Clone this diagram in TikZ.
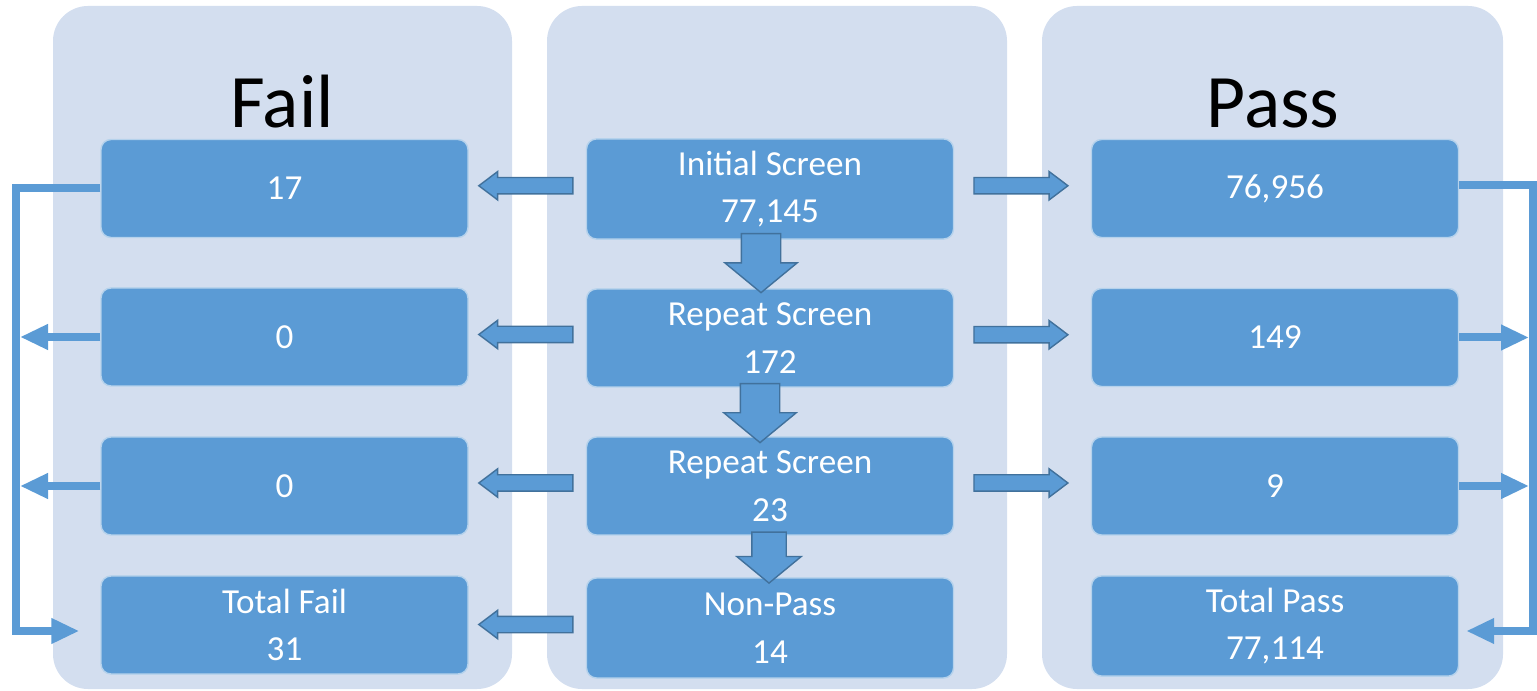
\documentclass[tikz,border=0pt]{standalone}
\usepackage{fontspec}
\setmainfont{Carlito}
\usetikzlibrary{arrows.meta, shapes.arrows, calc}

\definecolor{panelbg}{HTML}{D3DEEF}
\definecolor{boxblue}{HTML}{5B9BD5}
\definecolor{arrowedge}{HTML}{41719C}

\tikzset{
  panel/.style={fill=panelbg, rounded corners=0.35cm},
  stage/.style={rectangle, rounded corners=0.1cm, fill=boxblue, draw=white!55!boxblue, thin,
    text=white, minimum width=3.67cm, minimum height=0.98cm, align=center,
    font=\fontsize{10}{13.6}\selectfont},
  title/.style={font=\fontsize{21.5}{25}\selectfont, anchor=base},
  blockarrow/.style={single arrow, fill=boxblue, draw=arrowedge, line width=0.4pt, inner xsep=0pt},
  harrow/.style={blockarrow, minimum height=0.94cm, inner ysep=0.075cm,
    single arrow head extend=0.06cm, single arrow tip angle=74},
  varrow/.style={blockarrow, rotate=-90, minimum height=0.59cm, inner ysep=0.19cm,
    single arrow head extend=0.165cm, single arrow tip angle=101},
  tally/.style={draw=boxblue, line width=0.08cm},
  tallytip/.style={tally, -{Triangle[length=0.28cm, width=0.24cm]}},
}

\begin{document}
\begin{tikzpicture}
\useasboundingbox (0,0) rectangle (15.37,-6.91);

%% --- column panels -------------------------------------------------------
\fill[panel] (0.53,-0.06) rectangle (5.12,-6.89);
\fill[panel] (5.47,-0.06) rectangle (10.07,-6.89);
\fill[panel] (10.42,-0.06) rectangle (15.03,-6.89);

\node[title] (failhd) at (2.82,-1.28) {Fail};
\node[title] (passhd) at (12.73,-1.28) {Pass};

%% --- stage boxes ---------------------------------------------------------
\node[stage] (f1)   at (2.845,-1.885) {17};
\node[stage] (f2)   at (2.845,-3.37)  {0};
\node[stage] (f3)   at (2.845,-4.86)  {0};
\node[stage] (ftot) at (2.845,-6.25)  {Total Fail\\31};

\node[stage] (i1) at (7.70,-1.89) {Initial Screen\\77,145};
\node[stage] (i2) at (7.70,-3.38) {Repeat Screen\\172};
\node[stage] (i3) at (7.70,-4.86) {Repeat Screen\\23};
\node[stage, minimum height=1.0cm] (i4) at (7.70,-6.28) {Non-Pass\\14};

\node[stage] (r1)   at (12.75,-1.885) {76,956};
\node[stage] (r2)   at (12.75,-3.375) {149};
\node[stage] (r3)   at (12.75,-4.86)  {9};
\node[stage] (rtot) at (12.75,-6.26)  {Total Pass\\77,114};

%% --- block arrows --------------------------------------------------------
\foreach \k in {1,2,3} {
  \node[harrow, rotate=180] (fl\k) at ($(f\k.east)!0.5!(i\k.west)+(0.04,0.03)$) {};
  \node[harrow] (pr\k) at ($(i\k.east)!0.5!(r\k.west)+(-0.07,0.03)$) {};
}
\node[harrow, rotate=180] (fl4) at ($(ftot.east)!0.5!(i4.west)+(0.04,0.02)$) {};

\node[varrow] (dn1) at ($(i1.south)!0.5!(i2.north)+(-0.09,0.09)$) {};
\node[varrow] (dn2) at ($(i2.south)!0.5!(i3.north)+(-0.10,0.07)$) {};
\node[varrow, minimum height=0.51cm, inner ysep=0.165cm,
  single arrow head extend=0.15cm] (dn3) at ($(i3.south)!0.5!(i4.north)+(-0.01,0.06)$) {};

%% --- tally lines ---------------------------------------------------------
\coordinate (lbar) at (0.16,0);
\coordinate (rbar) at (15.33,0);

\draw[tallytip, shorten >=0.21cm] (f1.west) -- (f1.west -| lbar) |- ([yshift=-0.06cm]ftot.west);
\draw[tallytip, shorten >=0.04cm] (f2.west) -- (f2.west -| lbar);
\draw[tallytip, shorten >=0.04cm] (f3.west) -- (f3.west -| lbar);

\draw[tallytip, shorten >=0.07cm] ([yshift=0.03cm]r1.east) -- ([yshift=0.03cm]r1.east -| rbar) |- ([yshift=-0.05cm]rtot.east);
\draw[tallytip, shorten >=0.04cm] (r2.east) -- (r2.east -| rbar);
\draw[tallytip, shorten >=0.04cm] (r3.east) -- (r3.east -| rbar);

\end{tikzpicture}
\end{document}
